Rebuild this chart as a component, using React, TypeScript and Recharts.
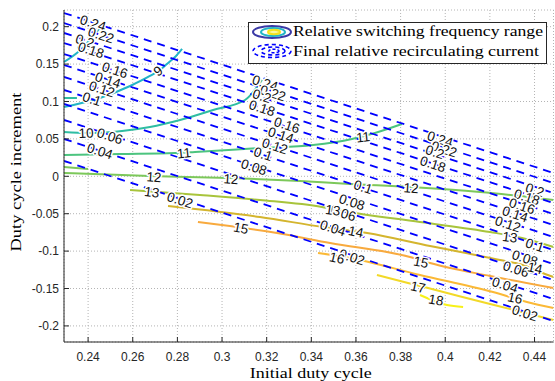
import React from 'react';
import { ComposedChart, Line, Scatter, XAxis, YAxis, CartesianGrid, Legend, Label } from 'recharts';

const xLimits = [0.2292, 0.4485];
const yLimits = [-0.2215, 0.2223];
const xTicks = [0.24, 0.26, 0.28, 0.3, 0.32, 0.34, 0.36, 0.38, 0.4, 0.42, 0.44];
const yTicks = [-0.2, -0.15, -0.1, -0.05, 0, 0.05, 0.1, 0.15, 0.2];

// final relative recirculating current: straight contours, increment where each one meets the left / right frame
const currentLevels = [0.24, 0.22, 0.2, 0.18, 0.16, 0.14, 0.12, 0.1, 0.08, 0.06, 0.04, 0.02];
const currentAtLeft = [0.2183, 0.2049, 0.1916, 0.1782, 0.1635, 0.1488, 0.1328, 0.1154, 0.0967, 0.0753, 0.0499, 0.0205];
const currentAtRight = [0.0044, -0.009, -0.0223, -0.0357, -0.0504, -0.0651, -0.0811, -0.0985, -0.1172, -0.1386, -0.164, -0.1934];

// relative switching frequency range contours, [initial duty cycle, increment]
const freq9a = [[0.2292, 0.1528], [0.2355, 0.1662], [0.2408, 0.1822], [0.2467, 0.2036]];
const freq9 = [[0.2292, 0.0926], [0.2453, 0.1047], [0.2588, 0.1207], [0.2677, 0.1341], [0.2722, 0.1421], [0.2753, 0.1501], [0.2794, 0.1608], [0.2821, 0.1702]];
const freq10a = [[0.2292, 0.1047], [0.235, 0.1047]];
const freq10 = [[0.2292, 0.0592], [0.24, 0.0579], [0.2552, 0.0606], [0.2677, 0.0659], [0.2812, 0.0753], [0.296, 0.0887], [0.3103, 0.102], [0.3179, 0.1287]];
const freq11 = [[0.2292, 0.0285], [0.2543, 0.0298], [0.2789, 0.0311], [0.2879, 0.0325], [0.317, 0.0378], [0.3408, 0.0418], [0.3582, 0.0499], [0.3685, 0.0579], [0.3806, 0.0699]];
const freq12a = [[0.2292, 0.0124], [0.24, 0.0098]];
const freq12 = [[0.2292, 0.0044], [0.2677, 0.0004], [0.3036, -0.0023], [0.3349, -0.0063], [0.3573, -0.0103], [0.3842, -0.0143], [0.4156, -0.021], [0.4485, -0.0317]];
const freq13 = [[0.2588, -0.0183], [0.2901, -0.025], [0.317, -0.0317], [0.3448, -0.041], [0.3542, -0.0464], [0.3887, -0.0611], [0.4201, -0.0745], [0.4344, -0.0825], [0.4485, -0.0945]];
const freq14 = [[0.2758, -0.0397], [0.317, -0.0544], [0.3452, -0.0678], [0.365, -0.0758], [0.3932, -0.0932], [0.4245, -0.1119], [0.4348, -0.1186], [0.4447, -0.1306], [0.4485, -0.1346]];
const freq15 = [[0.2892, -0.0611], [0.3246, -0.0758], [0.3484, -0.0892], [0.3842, -0.1079], [0.3932, -0.1159], [0.4201, -0.1333], [0.4485, -0.1494]];
const freq16 = [[0.343, -0.1025], [0.3573, -0.1092], [0.3887, -0.1319], [0.4214, -0.1547], [0.4366, -0.168], [0.4485, -0.1761]];
const freq17 = [[0.3694, -0.1319], [0.3833, -0.1426], [0.3923, -0.1494], [0.4201, -0.1708], [0.4485, -0.1921]];
const freq18 = [[0.3887, -0.1587], [0.4008, -0.1721], [0.408, -0.1747]];

// inline contour labels, [text, initial duty cycle, increment]
const currentLabels: [string, number, number][] = [
  ['0.24', 0.2422, 0.2049], ['0.22', 0.2458, 0.1889], ['0.2', 0.2386, 0.1809], ['0.18', 0.2413, 0.1688],
  ['0.16', 0.252, 0.1421], ['0.14', 0.2489, 0.1287], ['0.12', 0.2462, 0.1167], ['0.1', 0.2417, 0.1033],
  ['0.06', 0.2498, 0.0539], ['0.04', 0.2453, 0.0338], ['0.02', 0.2812, -0.0317],
  ['0.24', 0.3193, 0.1247], ['0.22', 0.3228, 0.1114], ['0.2', 0.3179, 0.1074], ['0.18', 0.3179, 0.0913],
  ['0.16', 0.3291, 0.0686], ['0.14', 0.3264, 0.0552], ['0.12', 0.3237, 0.0405], ['0.1', 0.3184, 0.0298],
  ['0.08', 0.3143, 0.0124], ['0.1', 0.3632, -0.0143], ['0.08', 0.3582, -0.0344], ['0.06', 0.3542, -0.0491],
  ['0.04', 0.3497, -0.0692], ['0.02', 0.3582, -0.1079],
  ['0.24', 0.3977, 0.0499], ['0.22', 0.3995, 0.0365], ['0.2', 0.3954, 0.0325], ['0.18', 0.3945, 0.0164],
  ['0.2', 0.4402, -0.0183], ['0.18', 0.4366, -0.0277], ['0.16', 0.4344, -0.0397], ['0.14', 0.4313, -0.0504],
  ['0.12', 0.4281, -0.0638], ['0.1', 0.4402, -0.0919], ['0.08', 0.4357, -0.1092], ['0.06', 0.4317, -0.1239],
  ['0.04', 0.4268, -0.1453], ['0.02', 0.4357, -0.1827],
];
const freqLabels: [string, number, number][] = [
  ['9', 0.2713, 0.1408], ['10', 0.2391, 0.0579], ['11', 0.283, 0.0311], ['11', 0.3632, 0.0525],
  ['12', 0.2695, -0.0009], ['12', 0.304, -0.0036], ['12', 0.3847, -0.0157],
  ['13', 0.2686, -0.021], ['13', 0.3497, -0.0451], ['13', 0.429, -0.0813],
  ['14', 0.36, -0.0739], ['14', 0.4402, -0.1226], ['15', 0.3085, -0.0691], ['15', 0.3891, -0.1146],
  ['16', 0.3515, -0.1092], ['16', 0.4313, -0.1627], ['17', 0.3878, -0.148], ['18', 0.3959, -0.1653],
];

const freqColor: Record<string, string> = {
  '9': '#22b5c6', '10': '#2fbda2', '11': '#4cc47f', '12': '#7cc85a', '13': '#a8c43c',
  '14': '#d4b52e', '15': '#f8aa3e', '16': '#fbb936', '17': '#f2d928', '18': '#f7f118',
};
const freqAngle: Record<string, number> = {
  '9': -36, '10': -2, '11': -6, '12': 4, '13': 8, '14': 12, '15': 11, '16': 13, '17': 12, '18': 10,
};

const freqContours = [
  { level: '9', pts: freq9a }, { level: '9', pts: freq9 }, { level: '10', pts: freq10a },
  { level: '10', pts: freq10 }, { level: '11', pts: freq11 }, { level: '12', pts: freq12a },
  { level: '12', pts: freq12 }, { level: '13', pts: freq13 }, { level: '14', pts: freq14 },
  { level: '15', pts: freq15 }, { level: '16', pts: freq16 }, { level: '17', pts: freq17 },
  { level: '18', pts: freq18 },
];

const currentLines = currentLevels.map((lv, i) => ({
  level: lv,
  pts: [{ x: xLimits[0], y: currentAtLeft[i] }, { x: xLimits[1], y: currentAtRight[i] }],
}));

const labelRows = [
  ...currentLabels.map(([text, x, y]) => ({ text, x, y, kind: 'current' })),
  ...freqLabels.map(([text, x, y]) => ({ text, x, y, kind: 'freq' })),
];

const axisColor = '#262626';
const tickFont = { fill: axisColor, fontSize: 12, fontFamily: "'Liberation Sans', Arial, sans-serif" };
const serif = "'Liberation Serif', 'Times New Roman', serif";

const ContourLabel = (props: any) => {
  const { cx, cy, payload } = props;
  const angle = payload.kind === 'current' ? 18 : freqAngle[payload.text] ?? 0;
  return (
    <g transform={`translate(${cx} ${cy}) rotate(${angle})`}>
      <text
        x={0}
        y={0}
        dy="0.35em"
        textAnchor="middle"
        style={{
          fontFamily: "'Liberation Sans', Arial, sans-serif",
          fontSize: '13.5px',
          fill: '#111111',
          stroke: '#ffffff',
          strokeWidth: 3,
          strokeLinejoin: 'round',
          paintOrder: 'stroke',
        }}
      >
        {payload.text}
      </text>
    </g>
  );
};

const renderLegend = () => (
  <svg width={300} height={43} style={{ display: 'block' }}>
    <rect x={0.5} y={0.5} width={298} height={41} fill="#ffffff" stroke={axisColor} strokeWidth={1} />
    <ellipse cx={24} cy={10} rx={19} ry={6} fill="none" stroke="#3b3aa6" strokeWidth={2} />
    <ellipse cx={25} cy={10} rx={12} ry={4} fill="none" stroke="#22b5c6" strokeWidth={2} />
    <ellipse cx={26} cy={10} rx={6} ry={2.2} fill="#fbf7a0" stroke="#f4e21c" strokeWidth={2} />
    <text x={45} y={14} fontFamily={serif} fontSize={15.5} fill="#000" textLength={250} lengthAdjust="spacingAndGlyphs">
      Relative switching frequency range
    </text>
    <ellipse cx={24} cy={29} rx={19} ry={6.5} fill="none" stroke="#0000ff" strokeWidth={1.6} strokeDasharray="4 3" />
    <ellipse cx={25} cy={29} rx={12} ry={4} fill="none" stroke="#0000ff" strokeWidth={1.6} strokeDasharray="4 3" />
    <ellipse cx={26} cy={29} rx={5} ry={1.8} fill="none" stroke="#0000ff" strokeWidth={1.6} strokeDasharray="3 2" />
    <text x={45} y={34} fontFamily={serif} fontSize={15.5} fill="#000" textLength={246} lengthAdjust="spacingAndGlyphs">
      Final relative recirculating current
    </text>
  </svg>
);

export default function App() {
  return (
    <div style={{ position: 'absolute', left: 0, top: 0, width: 555, height: 381, background: '#fff' }}>
      <ComposedChart width={555} height={381} margin={{ top: 10, right: 1.5, bottom: 14, left: 0 }}>
        <CartesianGrid stroke="#b4b4b4" strokeDasharray="1 2" />
        <XAxis
          dataKey="x"
          type="number"
          domain={xLimits}
          ticks={xTicks}
          allowDataOverflow
          height={25}
          tickSize={-5}
          tickMargin={15}
          stroke={axisColor}
          tick={tickFont}
        >
          <Label
            content={({ viewBox }: any) => (
              <text
                x={viewBox.x + viewBox.width / 2 + 2}
                y={viewBox.y + viewBox.height + 11}
                textAnchor="middle"
                fontFamily={serif}
                fontSize={15.5}
                fill="#000"
                textLength={122}
                lengthAdjust="spacingAndGlyphs"
              >
                Initial duty cycle
              </text>
            )}
          />
        </XAxis>
        <XAxis xAxisId="top" orientation="top" dataKey="x" type="number" domain={xLimits} ticks={xTicks} allowDataOverflow height={0} tickSize={-5} tick={false} stroke={axisColor} />
        <YAxis
          type="number"
          domain={yLimits}
          ticks={yTicks}
          allowDataOverflow
          width={64}
          tickSize={-5}
          tickMargin={10}
          stroke={axisColor}
          tick={tickFont}
        >
          <Label
            content={({ viewBox }: any) => {
              const x = viewBox.x + 21;
              const y = viewBox.y + viewBox.height / 2 - 4;
              return (
                <text
                  x={x}
                  y={y}
                  transform={`rotate(-90 ${x} ${y})`}
                  textAnchor="middle"
                  fontFamily={serif}
                  fontSize={15.5}
                  fill="#000"
                  textLength={159}
                  lengthAdjust="spacingAndGlyphs"
                >
                  Duty cycle increment
                </text>
              );
            }}
          />
        </YAxis>
        <YAxis yAxisId="right" orientation="right" type="number" domain={yLimits} ticks={yTicks} allowDataOverflow width={0} tickSize={-5} tick={false} stroke={axisColor} />

        {freqContours.map((c, i) => (
          <Line
            key={`f${i}`}
            data={c.pts.map(([x, y]) => ({ x, y }))}
            dataKey="y"
            type="monotone"
            stroke={freqColor[c.level]}
            strokeWidth={2}
            dot={false}
            activeDot={false}
            isAnimationActive={false}
          />
        ))}
        {currentLines.map((c) => (
          <Line
            key={`c${c.level}`}
            data={c.pts}
            dataKey="y"
            type="linear"
            stroke="#0000ff"
            strokeWidth={1.8}
            strokeDasharray="8 6"
            dot={false}
            activeDot={false}
            isAnimationActive={false}
          />
        ))}
        <Scatter data={labelRows} dataKey="y" shape={ContourLabel} isAnimationActive={false} />
        <Legend
          layout="vertical"
          align="center"
          verticalAlign="middle"
          content={renderLegend}
          wrapperStyle={{ left: 248, top: 22, width: 300, height: 43 }}
        />
      </ComposedChart>
    </div>
  );
}
